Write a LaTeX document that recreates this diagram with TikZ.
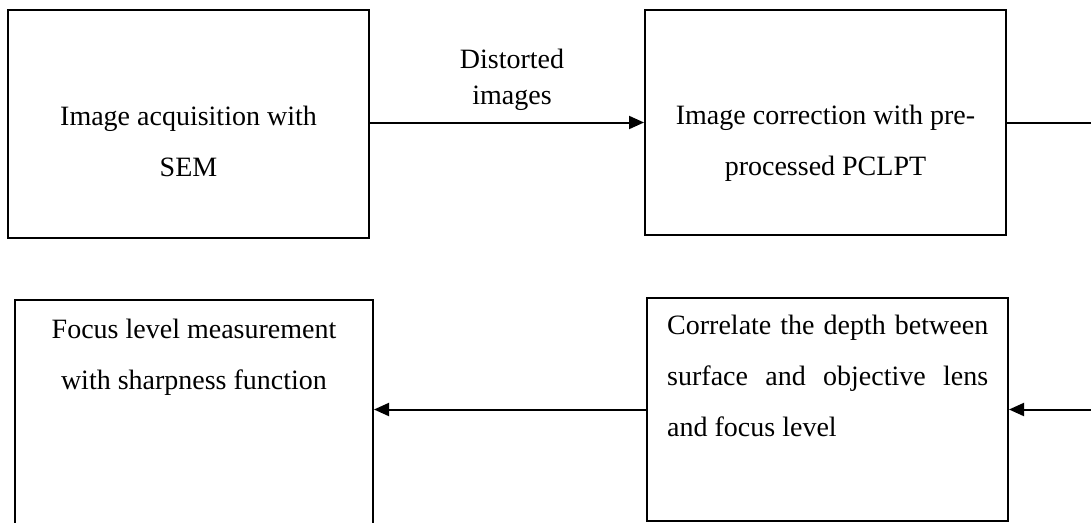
\documentclass[tikz,border=0pt]{standalone}
\usepackage{fontspec}
\setmainfont{Liberation Serif}
\usetikzlibrary{arrows.meta}
\begin{document}
\begin{tikzpicture}[x=1pt,y=-1pt,
  box/.style={draw, line width=2pt, inner sep=0pt},
  txt/.style={inner sep=0pt, font=\fontsize{28}{51}\selectfont},
  lbl/.style={inner sep=0pt, font=\fontsize{28}{36}\selectfont},
  conn/.style={line width=2pt},
  arr/.style={line width=2pt, -{Triangle[length=15pt,width=13pt]}}]
\useasboundingbox (0,0) rectangle (1091,522);
% boxes
\node[box, minimum width=361pt, minimum height=228pt] (acq) at (188.5,124) {};
\node[box, minimum width=361pt, minimum height=225pt] (corr) at (825.5,122.5) {};
\node[box, minimum width=361pt, minimum height=223pt] (depth) at (827.5,409.5) {};
\node[box, minimum width=358pt, minimum height=230pt] (focus) at (194,415) {};
% texts (base anchor = baseline of the last line)
\node[txt, align=center, anchor=base] (tacq) at (188.5,176) {Image acquisition with\\SEM};
\node[txt, align=center, anchor=base] (tcorr) at (825.5,175) {Image correction with pre-\\processed PCLPT};
\node[txt, align=left, anchor=base west] (tdepth) at (667,436)
  {\makebox[321pt][s]{Correlate the depth between}\\\makebox[321pt][s]{surface and objective lens}\\and focus level};
\node[txt, align=center, anchor=base] (tfocus) at (194,389) {Focus level measurement\\with sharpness function};
% connectors
\coordinate (rtop) at (1091,122.5);
\coordinate (rbot) at (1091,409.5);
\draw[arr] (acq.east |- corr.east) -- (corr.west);
\node[lbl, align=center, anchor=base] (dist) at (512,104) {Distorted\\images};
\draw[conn] (corr.east) -- (rtop);
\draw[arr] (rbot) -- (depth.east);
\draw[arr] (depth.west) -- (depth.west -| focus.east);
\end{tikzpicture}
\end{document}
